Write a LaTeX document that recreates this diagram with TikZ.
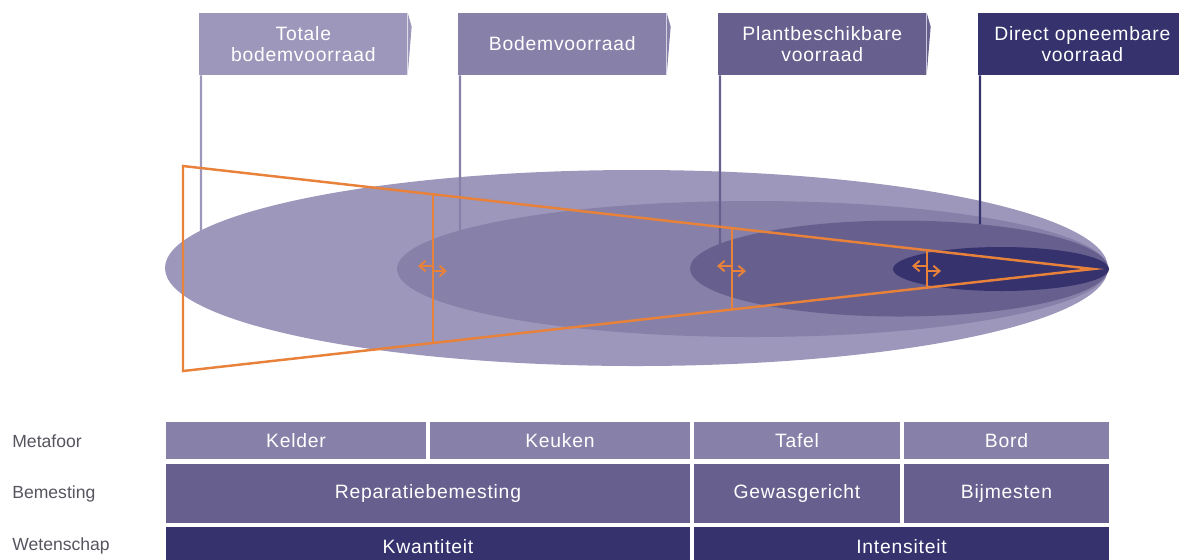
\documentclass[tikz,border=0pt]{standalone}
\usepackage{fontspec}
\setmainfont{Liberation Sans}
\newfontfamily\widesans[LetterSpace=4]{Liberation Sans}
\usetikzlibrary{arrows.meta,calc}
\definecolor{lilaA}{RGB}{157,151,187}
\definecolor{lilaB}{RGB}{135,129,169}
\definecolor{lilaC}{RGB}{103,96,142}
\definecolor{lilaD}{RGB}{53,50,110}
\definecolor{oranje}{RGB}{232,130,58}
\definecolor{lblgray}{RGB}{85,85,95}
\tikzset{
  flag/.style={fill=#1, text=white, anchor=west, align=center, inner sep=0pt,
               minimum width=4.16cm, minimum height=1.24cm,
               font=\widesans\fontsize{11}{11.5}\selectfont},
  pole/.style={draw=#1, line width=1.3pt},
  cell/.style={fill=#1, text=white, inner sep=0pt,
               font=\widesans\fontsize{11}{13}\selectfont},
  rowlbl/.style={anchor=west, text=lblgray, inner sep=0pt,
                 font=\fontsize{10}{12}\selectfont},
  orng/.style={draw=oranje, line width=1.4pt},
  harr/.style={draw=oranje, line width=1.1pt,
               -{Straight Barb[length=3.5pt,width=6pt]}},
}

\begin{document}
\begin{tikzpicture}[x=0.02cm, y=-0.02cm]
\useasboundingbox (0,0) rectangle (1179,559);

% flags
\node[flag=lilaA] (totaal) at (199,44) {Totale\\bodemvoorraad};
\node[flag=lilaB] (bodem)  at (458,44) {Bodemvoorraad};
\node[flag=lilaC] (plant)  at (718,44) {Plantbeschikbare\\voorraad};
\node[flag=lilaD] (direct) at (978,44) {Direct opneembare\\voorraad};
\fill[lilaA] (totaal.north east) -- ++(4,14) -- (totaal.south east) -- cycle;
\fill[lilaB] (bodem.north east)  -- ++(4,14) -- (bodem.south east) -- cycle;
\fill[lilaC] (plant.north east)  -- ++(4,14) -- (plant.south east) -- cycle;

\coordinate (g1) at (201,268);
\coordinate (g2) at (460,268);
\coordinate (g3) at (720,268);
\coordinate (g4) at (980,268);

% pools
\draw[pole=lilaA] ([xshift=0.04cm]totaal.south west) -- (g1);
\fill[lilaA] (636.5,268) ellipse [x radius=471.5, y radius=98];
\draw[pole=lilaB] ([xshift=0.04cm]bodem.south west) -- (g2);
\fill[lilaB] (752.5,269) ellipse [x radius=355.5, y radius=68];
\draw[pole=lilaC] ([xshift=0.04cm]plant.south west) -- (g3);
\draw[pole=lilaD] ([xshift=0.04cm]direct.south west) -- (g4);
\fill[lilaC] (899,268.5) ellipse [x radius=209, y radius=48];
\fill[lilaD] (1001,269) ellipse [x radius=108, y radius=22];

% trechter
\coordinate (tl) at (183,166);
\coordinate (bl) at (183,371);
\coordinate (top) at (1093,269);
\draw[orng] (top) -- (tl) -- (bl) -- cycle;
\foreach \t/\x in {0.2747/433, 0.6033/732, 0.8176/927} {
  \draw[orng] ($(tl)!\t!(top)$) -- ($(bl)!\t!(top)$);
  \draw[harr] (\x,266) -- ++(-15,0);
  \draw[harr] (\x,271) -- ++(14,0);
}

% tabel
\node[rowlbl] (metafoor)   at (12,441) {Metafoor};
\node[rowlbl] (bemesting)  at (12,494) {Bemesting};
\node[rowlbl] (wetenschap) at (12,546) {Wetenschap};

\node[cell=lilaB, minimum width=5.2cm,  minimum height=0.74cm] (kelder) at (296,440.5)  {Kelder};
\node[cell=lilaB, minimum width=5.2cm,  minimum height=0.74cm] (keuken) at (560,440.5)  {Keuken};
\node[cell=lilaB, minimum width=4.12cm, minimum height=0.74cm] (tafel)  at (797,440.5)  {Tafel};
\node[cell=lilaB, minimum width=4.1cm,  minimum height=0.74cm] (bord)   at (1006.5,440.5) {Bord};

\node[cell=lilaC, minimum width=10.48cm, minimum height=1.18cm] (reparatie) at (428,493.5)  {Reparatiebemesting};
\node[cell=lilaC, minimum width=4.12cm,  minimum height=1.18cm] (gewas)     at (797,493.5)  {Gewasgericht};
\node[cell=lilaC, minimum width=4.1cm,   minimum height=1.18cm] (bijmest)   at (1006.5,493.5) {Bijmesten};

\node[cell=lilaD, minimum width=10.48cm, minimum height=0.8cm] (kwantiteit) at (428,547)   {Kwantiteit};
\node[cell=lilaD, minimum width=8.3cm,   minimum height=0.8cm] (intensiteit) at (901.5,547) {Intensiteit};
\end{tikzpicture}
\end{document}
